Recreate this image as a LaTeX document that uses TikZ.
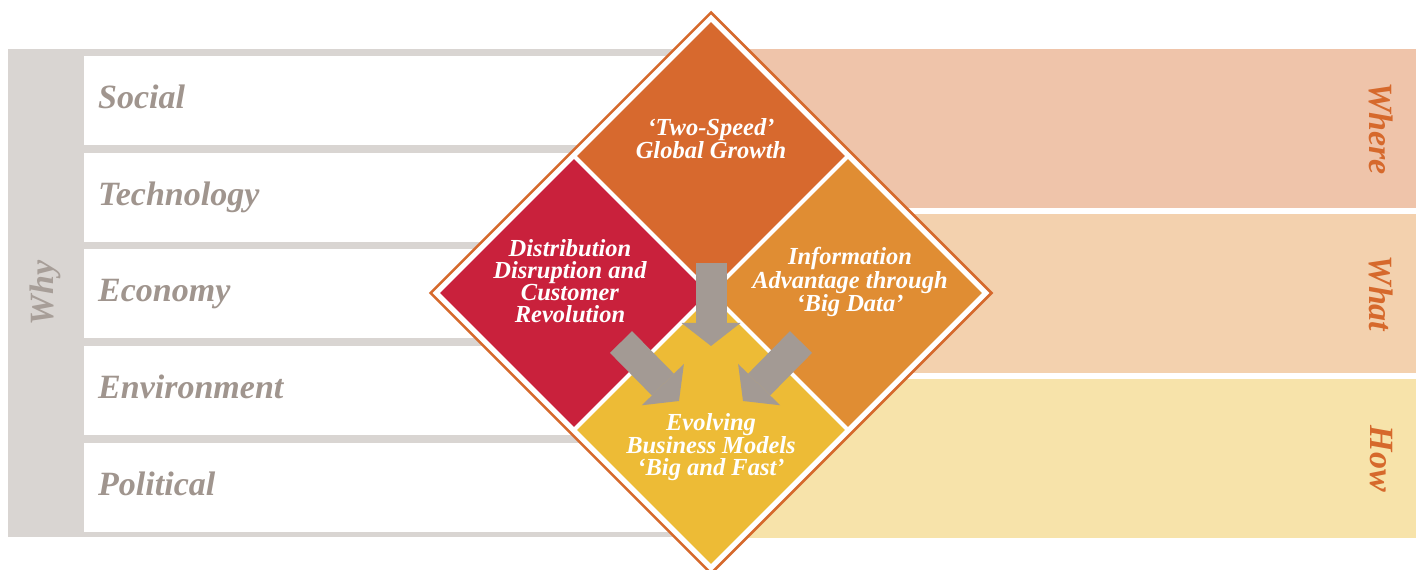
\documentclass[tikz,border=0pt]{standalone}
\usepackage{fontspec}
\setmainfont{Liberation Serif}
\usetikzlibrary{positioning, arrows.meta, shapes.geometric}
\definecolor{panelgray}{HTML}{D9D5D2}
\definecolor{labelgray}{HTML}{A0958E}
\definecolor{whygray}{HTML}{A79E98}
\definecolor{wherefill}{HTML}{EFC4AA}
\definecolor{whatfill}{HTML}{F3D1AE}
\definecolor{howfill}{HTML}{F7E3AA}
\definecolor{rim}{HTML}{D6692C}
\definecolor{growthfill}{HTML}{D7692E}
\definecolor{distfill}{HTML}{C9213C}
\definecolor{datafill}{HTML}{E08D33}
\definecolor{modelsfill}{HTML}{EDBB36}
\definecolor{arrowgray}{HTML}{A39A94}
\tikzset{
  x=1pt, y=1pt, node distance=7.25pt,
  label font/.style={font=\fontsize{34}{36}\selectfont\bfseries\itshape},
  rowbox/.style={fill=white, minimum height=89pt, text width=599pt, inner xsep=14pt, inner ysep=0pt,
    align=left, text height=24pt, text depth=8pt, label font, text=labelgray},
  band/.style={minimum width=705pt, minimum height=158.7pt, inner sep=0pt},
  sidetext/.style={rotate=-90, label font, text=rim},
  rimbox/.style={diamond, aspect=1, minimum size=562pt, inner sep=0pt, draw=rim, line width=2.5pt, fill=white},
  piece/.style={diamond, aspect=1, minimum size=268pt, inner sep=0pt},
  blurb/.style={text=white, align=center, font=\fontsize{24.5}{22}\selectfont\bfseries\itshape},
  flow/.style={draw=arrowgray, line width=31pt, -{Triangle[width=59pt, length=23pt, line width=0pt]}}
}

\begin{document}
\begin{tikzpicture}
    \useasboundingbox (0,0) rectangle (1421,570);

    \fill[panelgray] (8,33) rectangle (711,521);
    \node[rotate=90, label font, text=whygray] (why) at (45,277) {Why};
    \node[rowbox, anchor=north west] (social) at (84,514) {Social};
    \node[rowbox, below = of social] (technology) {Technology};
    \node[rowbox, below = of technology] (economy) {Economy};
    \node[rowbox, below = of economy] (environment) {Environment};
    \node[rowbox, below = of environment] (political) {Political};

    \node[band, fill=wherefill, anchor=north west] (where) at (711,521) {};
    \node[band, fill=whatfill, below = 6pt of where] (what) {};
    \node[band, fill=howfill, below = 6pt of what] (how) {};
    \node[sidetext] (wherelabel) at ([xshift=-35pt]where.east) {Where};
    \node[sidetext] (whatlabel) at ([xshift=-35pt]what.east) {What};
    \node[sidetext] (howlabel) at ([xshift=-35pt]how.east) {How};

    \node[rimbox] (frame) at (711,277) {};
    \node[piece, fill=growthfill] (growth) at ([yshift=137pt]frame.center) {};
    \node[piece, fill=distfill] (distribution) at ([xshift=-137pt]frame.center) {};
    \node[piece, fill=datafill] (bigdata) at ([xshift=137pt]frame.center) {};
    \node[piece, fill=modelsfill] (models) at ([yshift=-137pt]frame.center) {};

    \node[blurb] (growthtext) at ([yshift=17pt]growth.center) {‘Two-Speed’\\Global Growth};
    \node[blurb] (disttext) at ([shift={(-4pt,12pt)}]distribution.center) {Distribution\\Disruption and\\Customer\\Revolution};
    \node[blurb] (datatext) at ([shift={(2pt,11pt)}]bigdata.center) {Information\\Advantage through\\‘Big Data’};
    \node[blurb] (modelstext) at ([yshift=-17pt]models.center) {Evolving\\Business Models\\‘Big and Fast’};

    \draw[flow] ([yshift=-107pt]growth.center) -- ([yshift=84pt]models.center);
    \draw[flow] ([shift={(47pt,-49pt)}]distribution.center) -- ([shift={(-32pt,29pt)}]models.center);
    \draw[flow] ([shift={(-47pt,-49pt)}]bigdata.center) -- ([shift={(32pt,29pt)}]models.center);
\end{tikzpicture}
\end{document}
